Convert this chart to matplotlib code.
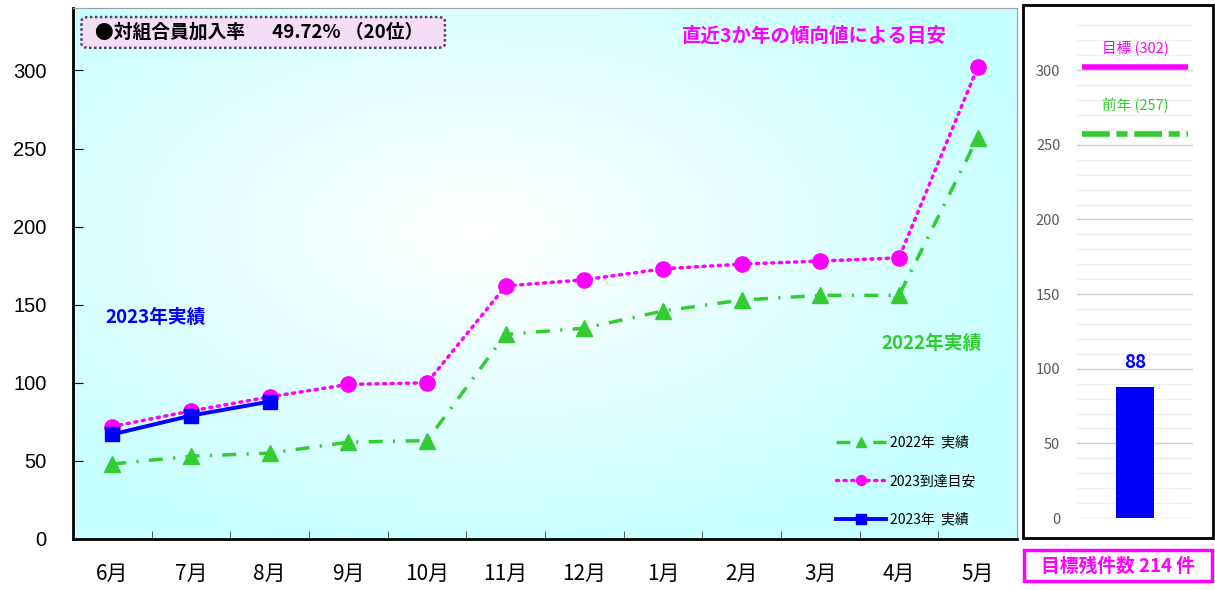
import numpy as np
import matplotlib.pyplot as plt
from matplotlib.patches import FancyBboxPatch, Rectangle

plt.rcParams['font.family'] = ['Noto Sans CJK JP', 'DejaVu Sans']

months = ['6月', '7月', '8月', '9月', '10月', '11月', '12月', '1月', '2月', '3月', '4月', '5月']
actual_2022 = [48, 53, 55, 62, 63, 131, 135, 146, 153, 156, 156, 257]
target_2023 = [72, 82, 91, 99, 100, 162, 166, 173, 176, 178, 180, 302]
actual_2023 = [67, 79, 88]
target_total = 302
prev_total = 257
current = 88
remaining = target_total - current

GREEN = '#33cc33'
MAGENTA = '#ff00ff'
BLUE = '#0000ff'

fig = plt.figure(figsize=(12.15, 5.9), dpi=100)
W, H = 1215, 590


def fbox(x0, y0, x1, y1):
    return [x0 / W, 1 - y1 / H, (x1 - x0) / W, (y1 - y0) / H]


ax = fig.add_axes(fbox(73, 8, 1017, 539))

# radial gradient background
gx, gy = np.meshgrid(np.linspace(0, 1, 300), np.linspace(0, 1, 200))
r = np.sqrt(((gx - 0.43) / 0.62) ** 2 + ((gy - 0.58) / 0.62) ** 2)
t = np.clip(r, 0, 1) ** 1.1
edge = np.array([0.78, 1.0, 1.0])
img = (1 - t)[..., None] * np.array([1, 1, 1]) + t[..., None] * edge
ax.imshow(img, extent=[0, 1, 0, 1], transform=ax.transAxes, origin='lower',
          aspect='auto', zorder=0)

x = np.arange(len(months))
ax.plot(x, actual_2022, color=GREEN, lw=2.5, linestyle=(0, (4, 3, 0.6, 3)),
        marker='^', markersize=12, label='2022年  実績', zorder=3)
ax.plot(x, target_2023, color=MAGENTA, lw=2.5, linestyle=(0, (0.6, 1.6)),
        dash_capstyle='round', marker='o', markersize=11, label='2023到達目安', zorder=4)
ax.plot(x[:len(actual_2023)], actual_2023, color=BLUE, lw=2.8, marker='s',
        markersize=10, label='2023年  実績', zorder=5)

ax.set_xlim(-0.5, len(months) - 0.5)
ax.set_ylim(0, 340)
ax.set_yticks(range(0, 301, 50))
ax.set_xticks(x)
ax.set_xticklabels(months, fontsize=15)
ax.set_xticks(np.arange(0.5, len(months) - 1, 1), minor=True)
ax.tick_params(axis='x', which='major', length=0, pad=17)
ax.tick_params(axis='x', which='minor', direction='in', length=6, color='#404040')
ax.tick_params(axis='y', direction='in', length=7, labelsize=14.5, pad=19)
for lab in ax.get_yticklabels():
    lab.set_family('Liberation Sans')
for s in ['left', 'bottom']:
    ax.spines[s].set_linewidth(2)
    ax.spines[s].set_color('black')
for s in ['top', 'right']:
    ax.spines[s].set_linewidth(0.8)
    ax.spines[s].set_color('#a0a0a0')

ax.legend(loc='lower right', bbox_to_anchor=(0.97, 0.0), frameon=False,
          fontsize=10, labelspacing=1.75, handlelength=3.6, handletextpad=0.3,
          markerscale=0.65)

# header box
box = FancyBboxPatch((0.009, 0.925), 0.385, 0.058, transform=ax.transAxes,
                     boxstyle='round,pad=0,rounding_size=0.008', facecolor='#f6ddf6',
                     edgecolor='#504070', linestyle=(0, (1, 1)), lw=1.8, zorder=6)
ax.add_patch(box)
ax.text(0.023, 0.954, '●対組合員加入率　  49.72% （20位）', transform=ax.transAxes,
        fontsize=13.5, fontweight='bold', va='center', ha='left', zorder=7)

ax.text(0.785, 0.946, '直近3か年の傾向値による目安', transform=ax.transAxes, color=MAGENTA,
        fontsize=14, fontweight='bold', ha='center', va='center')
ax.text(0.087, 0.418, '2023年実績', transform=ax.transAxes, color=BLUE,
        fontsize=13.5, fontweight='bold', ha='center', va='center')
ax.text(0.91, 0.369, '2022年実績', transform=ax.transAxes, color=GREEN,
        fontsize=13.5, fontweight='bold', ha='center', va='center')

# right panel frame
fig.patches.append(Rectangle((1023 / W, 1 - 538 / H), 190 / W, 533 / H,
                             transform=fig.transFigure, fill=False, edgecolor='black',
                             lw=2))

bx = fig.add_axes(fbox(1077, 18, 1193, 518))
bx.set_xlim(-0.5, 0.5)
bx.set_ylim(0, 335)
bx.set_yticks(range(0, 301, 50))
bx.set_yticks(range(0, 331, 10), minor=True)
bx.grid(True, which='major', axis='y', color='#d0d0d0', lw=1)
bx.grid(True, which='minor', axis='y', color='#eeeeee', lw=1)
bx.set_axisbelow(True)
bx.set_xticks([])
bx.tick_params(axis='y', which='both', length=0, labelsize=10.5, labelcolor='#595959', pad=12)
for s in bx.spines.values():
    s.set_visible(False)
bx.bar([0], [current], width=0.32, color=BLUE, zorder=3)
bx.text(0, current + 10, str(current), color=BLUE, fontsize=13.5, fontweight='bold',
        ha='center', va='bottom')
bx.hlines(target_total, -0.457, 0.457, color=MAGENTA, lw=4)
bx.hlines(prev_total, -0.457, 0.457, color=GREEN, lw=4, linestyle=(0, (5, 1.2, 2, 1.2)))
bx.text(0, target_total + 8, f'目標 ({target_total})', color=MAGENTA, fontsize=10.5,
        ha='center', va='bottom')
bx.text(0, prev_total + 14, f'前年 ({prev_total})', color=GREEN, fontsize=10.5,
        ha='center', va='bottom')

fig.patches.append(Rectangle((1024 / W, 1 - 581 / H), 188 / W, 31 / H,
                             transform=fig.transFigure, fill=False, edgecolor=MAGENTA,
                             lw=2.5))
fig.text(1118 / W, 1 - 566 / H, f'目標残件数 {remaining} 件', color=MAGENTA, fontsize=13.5,
         fontweight='bold', ha='center', va='center')

fig.savefig('out.png', dpi=100)
